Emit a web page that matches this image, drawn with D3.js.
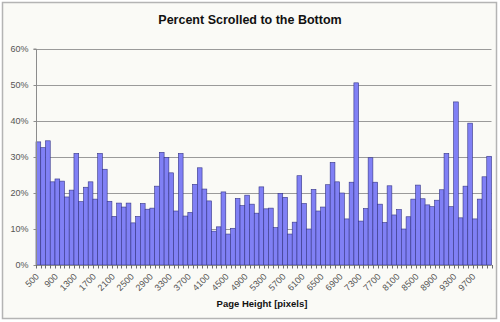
<!DOCTYPE html>
<html><head><meta charset="utf-8">
<script src="https://cdn.jsdelivr.net/npm/d3@7"></script>
<style>
html,body{margin:0;padding:0;background:#fff;}
svg{display:block;font-family:"Liberation Sans",Arial,sans-serif;}
</style></head>
<body><svg id="c" width="500" height="322"></svg>
<script>
const categories = [500,600,700,800,900,1000,1100,1200,1300,1400,1500,1600,1700,1800,1900,2000,
2100,2200,2300,2400,2500,2600,2700,2800,2900,3000,3100,3200,3300,3400,3500,3600,3700,3800,3900,4000,
4100,4200,4300,4400,4500,4600,4700,4800,4900,5000,5100,5200,5300,5400,5500,5600,5700,5800,5900,6000,
6100,6200,6300,6400,6500,6600,6700,6800,6900,7000,7100,7200,7300,7400,7500,7600,7700,7800,7900,8000,
8100,8200,8300,8400,8500,8600,8700,8800,8900,9000,9100,9200,9300,9400,9500,9600,9700,9800,9900,10000];
const values = [34.2,32.6,34.5,23.1,23.9,23.3,18.9,20.8,31.0,17.6,21.6,23.1,18.3,31.0,26.6,17.7,
13.5,17.2,16.1,17.2,11.7,13.5,17.1,15.5,15.8,21.9,31.3,29.9,25.6,15.0,31.0,13.6,
14.6,22.4,27.0,21.1,17.8,9.4,10.6,20.3,8.6,10.2,18.5,16.5,19.4,16.9,14.4,21.7,
15.6,15.8,10.4,19.9,18.8,8.6,11.9,24.8,17.1,10.0,21.0,15.0,16.1,22.3,28.5,23.1,
20.0,12.8,23.0,50.6,12.2,15.7,29.8,23.0,16.9,11.8,22.0,13.9,15.4,10.0,13.4,18.3,
22.2,18.4,16.7,16.2,18.0,20.9,31.0,16.2,45.3,13.1,21.9,39.4,12.8,18.3,24.5,30.2];
const xTickLabels = [500,900,1300,1700,2100,2500,2900,3300,3700,4100,4500,4900,5300,5700,6100,6500,6900,7300,7700,8100,8500,8900,9300,9700];
const yTicks = [0,10,20,30,40,50,60];
const title = "Percent Scrolled to the Bottom";
const xTitle = "Page Height [pixels]";

const svg = d3.select("#c");
const L = 36, R = 491.5, T = 49, B = 265;

// background + frame
svg.append("rect").attr("x",2.5).attr("y",2.5).attr("width",494).attr("height",316)
  .attr("fill","#fafaf6").attr("stroke","#b4b4b4").attr("stroke-width",1.5);

const x = d3.scaleBand().domain(categories).range([L, R]).padding(0);
const y = d3.scaleLinear().domain([0,60]).range([B, T]);

// gridlines
svg.append("g").selectAll("line").data(yTicks.filter(d=>d>0)).join("line")
  .attr("x1",L).attr("x2",R).attr("y1",d=>Math.round(y(d))+0.5).attr("y2",d=>Math.round(y(d))+0.5)
  .attr("stroke","#9a9a9a").attr("stroke-width",1);

// bars
svg.append("g").selectAll("rect").data(values).join("rect")
  .attr("x",(d,i)=>x(categories[i]))
  .attr("width",x.bandwidth())
  .attr("y",d=>y(d))
  .attr("height",d=>B - y(d))
  .attr("fill","#8080f5")
  .attr("stroke","#353585")
  .attr("stroke-width",0.6);

// y axis
const yAxis = d3.axisLeft(y).tickValues(yTicks).tickFormat(d=>d+"%").tickSize(3).tickPadding(5);
const gy = svg.append("g").attr("transform",`translate(${L+0.5},0)`).call(yAxis);
gy.select(".domain").attr("stroke","#8c8c8c").attr("d",`M-3,${T}H0V${B}`);
gy.selectAll(".tick line").attr("stroke","#8c8c8c");
gy.selectAll("text").attr("fill","#555").style("font-size","9px")
  .style("font-family","'Liberation Sans',Arial,sans-serif");

// x axis line
svg.append("line").attr("x1",L).attr("x2",R).attr("y1",B+0.5).attr("y2",B+0.5).attr("stroke","#8c8c8c");
// x tick marks at category boundaries
const bounds = categories.map(c=>x(c)).concat([x(categories[categories.length-1])+x.bandwidth()]);
svg.append("g").selectAll("line").data(bounds).join("line")
  .attr("x1",d=>Math.round(d)+0.5).attr("x2",d=>Math.round(d)+0.5)
  .attr("y1",B).attr("y2",B+3.5).attr("stroke","#6c6c6c").attr("stroke-width",1);

// x tick labels
svg.append("g").selectAll("text").data(xTickLabels).join("text")
  .attr("transform",d=>`translate(${x(d)+x.bandwidth()/2-1},${B+10}) rotate(-45)`)
  .attr("text-anchor","end").attr("dy","0.35em")
  .attr("fill","#555").style("font-size","9px")
  .text(d=>d);

// titles
svg.append("text").attr("x",250).attr("y",24).attr("text-anchor","middle")
  .style("font-size","12.5px").style("font-weight","bold").attr("fill","#111").text(title);
svg.append("text").attr("x",262).attr("y",307).attr("text-anchor","middle")
  .style("font-size","9.5px").style("font-weight","bold").attr("fill","#111").text(xTitle);
</script></body></html>
